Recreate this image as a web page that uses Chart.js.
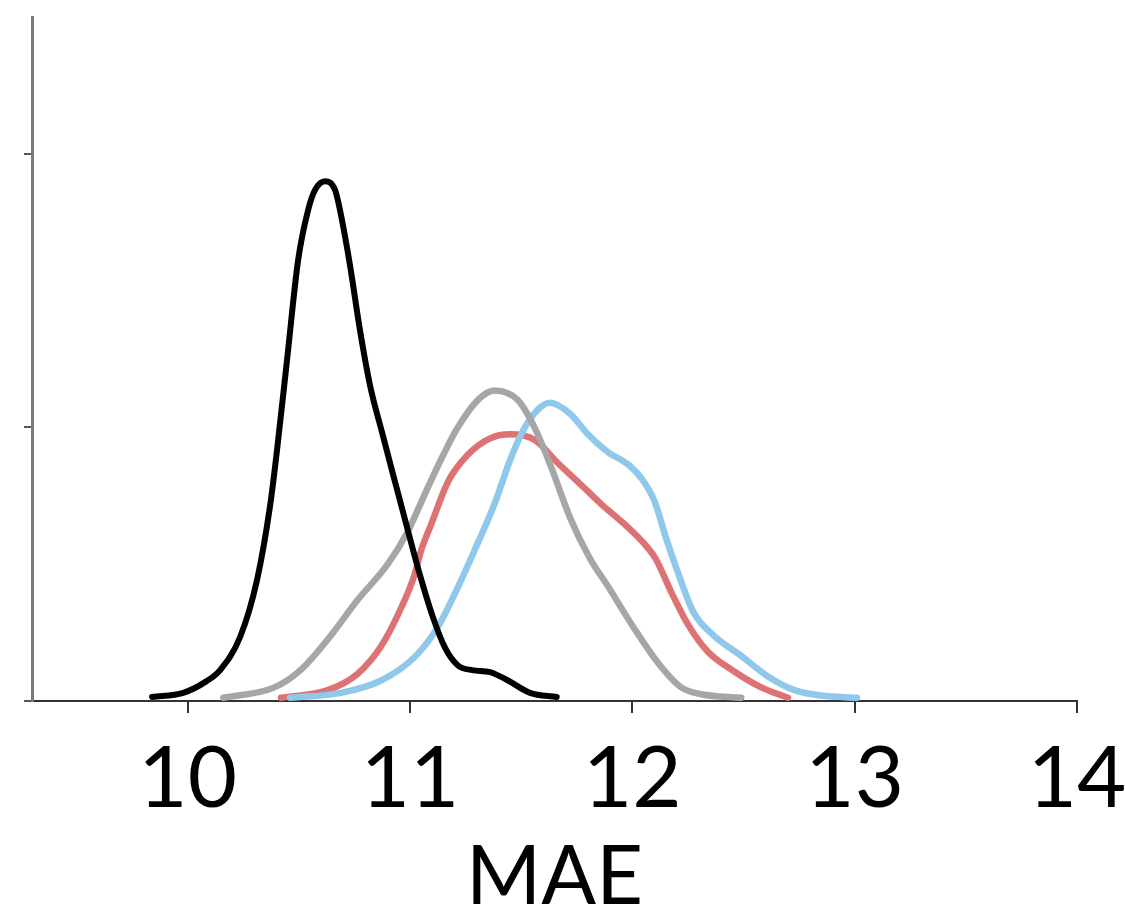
<!DOCTYPE html>
<html>
<head>
<meta charset="utf-8">
<title>MAE distribution</title>
<script src="https://cdn.jsdelivr.net/npm/chart.js@4/dist/chart.umd.min.js"></script>
<style>
    html, body { margin: 0; padding: 0; background: #fff; }
    #wrap { width: 1125px; height: 911px; }
</style>
</head>
<body>
<div id="wrap"><canvas id="maeChart" width="1125" height="911"></canvas></div>
<script>
// ==========================================
// DATA (density curves of MAE)
// ==========================================
const xTicks = [10, 11, 12, 13, 14];
const yTicks = [0, 1, 2];

const blackX = [9.84, 9.98, 10.08, 10.146, 10.236, 10.312, 10.37, 10.402, 10.447, 10.497, 10.542, 10.573, 10.618, 10.663, 10.685, 10.73, 10.775, 10.82, 10.874, 10.933, 10.99, 11.045, 11.1, 11.158, 11.216, 11.28, 11.36, 11.437, 11.54, 11.66];
const blackY = [0.015, 0.03, 0.07, 0.113, 0.234, 0.442, 0.709, 0.917, 1.246, 1.612, 1.795, 1.868, 1.9, 1.868, 1.795, 1.594, 1.356, 1.155, 0.983, 0.8, 0.625, 0.46, 0.314, 0.194, 0.13, 0.113, 0.106, 0.077, 0.03, 0.015];

const grayX = [10.16, 10.39, 10.51, 10.63, 10.765, 10.9, 10.99, 11.08, 11.15, 11.215, 11.305, 11.38, 11.485, 11.56, 11.635, 11.72, 11.81, 11.89, 12.005, 12.115, 12.22, 12.31, 12.49];
const grayY = [0.012, 0.05, 0.115, 0.225, 0.37, 0.5, 0.62, 0.78, 0.9, 1.0, 1.1, 1.135, 1.1, 1.0, 0.855, 0.67, 0.52, 0.42, 0.27, 0.14, 0.05, 0.025, 0.012];

const redX = [10.42, 10.63, 10.765, 10.87, 10.96, 11.02, 11.05, 11.095, 11.17, 11.26, 11.36, 11.45, 11.56, 11.665, 11.77, 11.86, 11.96, 12.07, 12.105, 12.18, 12.25, 12.34, 12.455, 12.58, 12.7];
const redY = [0.012, 0.04, 0.1, 0.2, 0.34, 0.46, 0.55, 0.645, 0.8, 0.9, 0.96, 0.975, 0.955, 0.87, 0.79, 0.72, 0.65, 0.56, 0.52, 0.39, 0.28, 0.18, 0.11, 0.05, 0.012];

const blueX = [10.46, 10.69, 10.87, 11.02, 11.125, 11.215, 11.29, 11.38, 11.45, 11.51, 11.575, 11.63, 11.72, 11.8, 11.89, 11.98, 12.04, 12.1, 12.15, 12.205, 12.275, 12.365, 12.49, 12.61, 12.73, 12.85, 13.01];
const blueY = [0.012, 0.03, 0.075, 0.16, 0.27, 0.415, 0.55, 0.72, 0.88, 0.99, 1.065, 1.09, 1.05, 0.975, 0.91, 0.865, 0.815, 0.73, 0.6, 0.47, 0.325, 0.24, 0.165, 0.09, 0.04, 0.02, 0.012];

// ==========================================
// HELPERS
// ==========================================
function toPoints(xs, ys) {
    return xs.map((x, i) => ({ x: x, y: ys[i] }));
}

function curve(xs, ys, color, width) {
    return {
        data: toPoints(xs, ys),
        borderColor: color,
        borderWidth: width,
        showLine: true,
        fill: false,
        pointRadius: 0,
        cubicInterpolationMode: 'monotone',
        borderCapStyle: 'round',
        borderJoinStyle: 'round'
    };
}

// ==========================================
// CHART
// ==========================================
const ctx = document.getElementById('maeChart').getContext('2d');

new Chart(ctx, {
    type: 'scatter',
    data: {
        // first dataset is drawn on top
        datasets: [
            curve(blackX, blackY, '#000000', 6),
            curve(grayX, grayY, '#a6a6a6', 6.5),
            curve(blueX, blueY, '#8fc8ea', 6.5),
            curve(redX, redY, '#de7272', 6.5)
        ]
    },
    options: {
        responsive: false,
        animation: false,
        layout: {
            padding: { top: 17, left: 24, right: 0, bottom: 0 }
        },
        plugins: {
            legend: { display: false },
            tooltip: { enabled: false }
        },
        scales: {
            x: {
                type: 'linear',
                min: 9.3,
                max: 14,
                afterBuildTicks: scale => {
                    scale.ticks = xTicks.map(v => ({ value: v }));
                },
                // keep the axis running out to the last tick
                afterFit: scale => {
                    scale.paddingRight = 48;
                },
                border: { display: true, color: '#333333', width: 2 },
                grid: {
                    drawOnChartArea: false,
                    drawTicks: true,
                    tickLength: 12,
                    color: '#333333',
                    lineWidth: 2
                },
                ticks: {
                    color: '#000',
                    padding: 23.8,
                    font: { family: 'Lato', size: 85, lineHeight: 86 / 85 },
                    maxRotation: 0
                },
                title: {
                    display: true,
                    text: 'MAE',
                    color: '#000',
                    font: { family: 'Lato', size: 81, lineHeight: 0.76 },
                    padding: { top: 0, bottom: 2.8 }
                }
            },
            y: {
                type: 'linear',
                min: 0,
                max: 2.5,
                afterBuildTicks: scale => {
                    scale.ticks = yTicks.map(v => ({ value: v }));
                },
                border: { display: true, color: '#7a7a7a', width: 3 },
                grid: {
                    drawOnChartArea: false,
                    drawTicks: true,
                    tickLength: 8,
                    color: '#555555',
                    lineWidth: 2
                },
                ticks: { display: false }
            }
        }
    }
});
</script>
</body>
</html>
